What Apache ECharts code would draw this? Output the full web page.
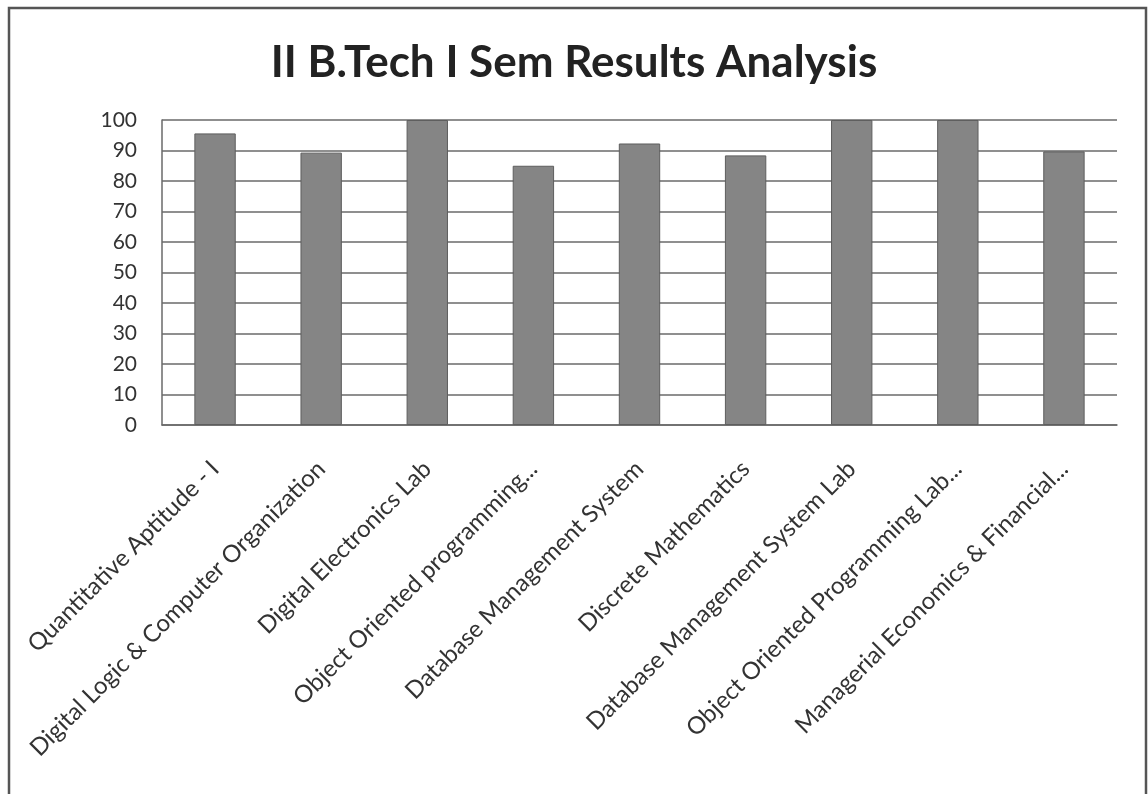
<!DOCTYPE html>
<html>
<head>
<meta charset="utf-8">
<script src="https://cdn.jsdelivr.net/npm/echarts@6/dist/echarts.min.js"></script>
<style>
  html, body { margin: 0; padding: 0; background: #fff; }
  #chart { width: 1148px; height: 794px; }
</style>
</head>
<body>
<div id="chart"></div>
<script>
const subjects = [
  'Quantitative Aptitude - I',
  'Digital Logic & Computer Organization',
  'Digital Electronics Lab',
  'Object Oriented programming...',
  'Database Management System',
  'Discrete Mathematics',
  'Database Management System Lab',
  'Object Oriented Programming Lab...',
  'Managerial Economics & Financial...'
]
const passPercent = [95.6, 89.3, 100, 85.0, 92.3, 88.4, 100, 100, 89.7]
const yTicks = [0, 10, 20, 30, 40, 50, 60, 70, 80, 90, 100]

const chart = echarts.init(document.getElementById('chart'))
chart.setOption({
  animation: false,
  backgroundColor: '#fff',
  title: {
    text: 'II B.Tech I Sem Results Analysis',
    left: 'center',
    top: 36,
    textStyle: { fontFamily: 'Lato', fontWeight: 'bold', fontSize: 44, color: '#222' }
  },
  grid: { left: 162, right: 31, top: 120, bottom: 369 },
  xAxis: {
    type: 'category',
    data: subjects,
    axisLine: { show: true, lineStyle: { color: '#6a6a6a', width: 1.5 } },
    axisTick: { show: false },
    axisLabel: {
      rotate: 45,
      interval: 0,
      margin: 40,
      fontFamily: 'Lato',
      fontSize: 24,
      color: '#333'
    }
  },
  yAxis: {
    type: 'value',
    min: yTicks[0],
    max: yTicks[yTicks.length - 1],
    interval: 10,
    axisLine: { show: true, lineStyle: { color: '#6a6a6a', width: 1.5 } },
    axisTick: { show: false },
    axisLabel: { fontFamily: 'Lato', fontSize: 21, color: '#333', margin: 25 },
    splitLine: { show: true, lineStyle: { color: '#6a6a6a', width: 1.5 } }
  },
  series: [{
    type: 'bar',
    data: passPercent,
    barWidth: '39%',
    itemStyle: { color: '#858585', borderColor: '#5e5e5e', borderWidth: 1 }
  }],
  graphic: [{
    // outer frame of the scanned chart (left, top, right edges)
    type: 'polyline',
    shape: { points: [[9, 794], [9, 8], [1146, 8], [1146, 794]] },
    style: { stroke: '#555', lineWidth: 2.5, fill: null }
  }]
})
</script>
</body>
</html>
